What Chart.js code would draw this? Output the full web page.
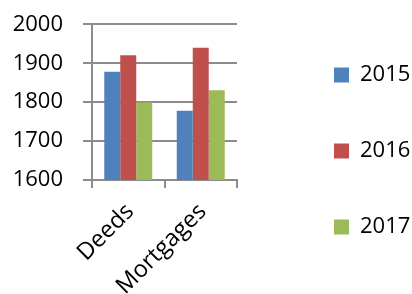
<!DOCTYPE html>
<html><head><meta charset="utf-8">
<script src="https://cdn.jsdelivr.net/npm/chart.js@4/dist/chart.umd.min.js"></script>
<style>html,body{margin:0;padding:0;background:#fff;overflow:hidden}</style>
</head><body>
<canvas id="c" width="412" height="294"></canvas>
<script>
const categories = ['Deeds', 'Mortgages'];
const seriesNames = ['2015', '2016', '2017'];
const values2015 = [1878, 1778];
const values2016 = [1921, 1940];
const values2017 = [1799, 1831];
const yMin = 1600, yMax = 2000, yStep = 100;
const colors = ['#4F81BD', '#C0504D', '#9BBB59'];

const FONT = 'Open Sans';
const gridColor = '#8c8c8c';

new Chart(document.getElementById('c'), {
  type: 'bar',
  data: {
    labels: categories,
    datasets: [values2015, values2016, values2017].map((v, i) => ({
      label: seriesNames[i],
      data: v,
      backgroundColor: colors[i],
      borderWidth: 0,
      categoryPercentage: 0.662,
      barPercentage: 1
    }))
  },
  options: {
    responsive: false,
    animation: false,
    devicePixelRatio: 1,
    layout: { padding: { top: 8, left: 0, right: 0, bottom: 0 } },
    plugins: {
      legend: {
        position: 'right',
        maxWidth: 132,
        labels: { boxWidth: 15, boxHeight: 15, padding: 54, color: '#000', font: { family: FONT, size: 22 } }
      },
      tooltip: { enabled: false }
    },
    scales: {
      x: {
        grid: { display: true, drawOnChartArea: false, drawTicks: true, tickLength: 8, color: gridColor, lineWidth: 2, offset: true },
        border: { display: true, color: gridColor, width: 2 },
        ticks: { minRotation: 45, maxRotation: 45, color: '#000', font: { family: FONT, size: 23.5 }, padding: 10, labelOffset: 2 },
        afterFit(s) { s.height = 114; }
      },
      y: {
        min: yMin, max: yMax,
        ticks: { stepSize: yStep, autoSkip: false, color: '#000', padding: 20, font: { family: FONT, size: 22, lineHeight: 0.4 }, callback: v => String(v) },
        grid: { color: gridColor, lineWidth: 2, tickLength: 9 },
        border: { color: gridColor, width: 2 },
        afterFit(s) { s.width = 92; }
      },
      y2: {
        position: 'right',
        display: true,
        grid: { display: false },
        ticks: { display: false },
        border: { display: false },
        afterFit(s) { s.width = 43; }
      }
    }
  }
});
</script>
</body></html>
